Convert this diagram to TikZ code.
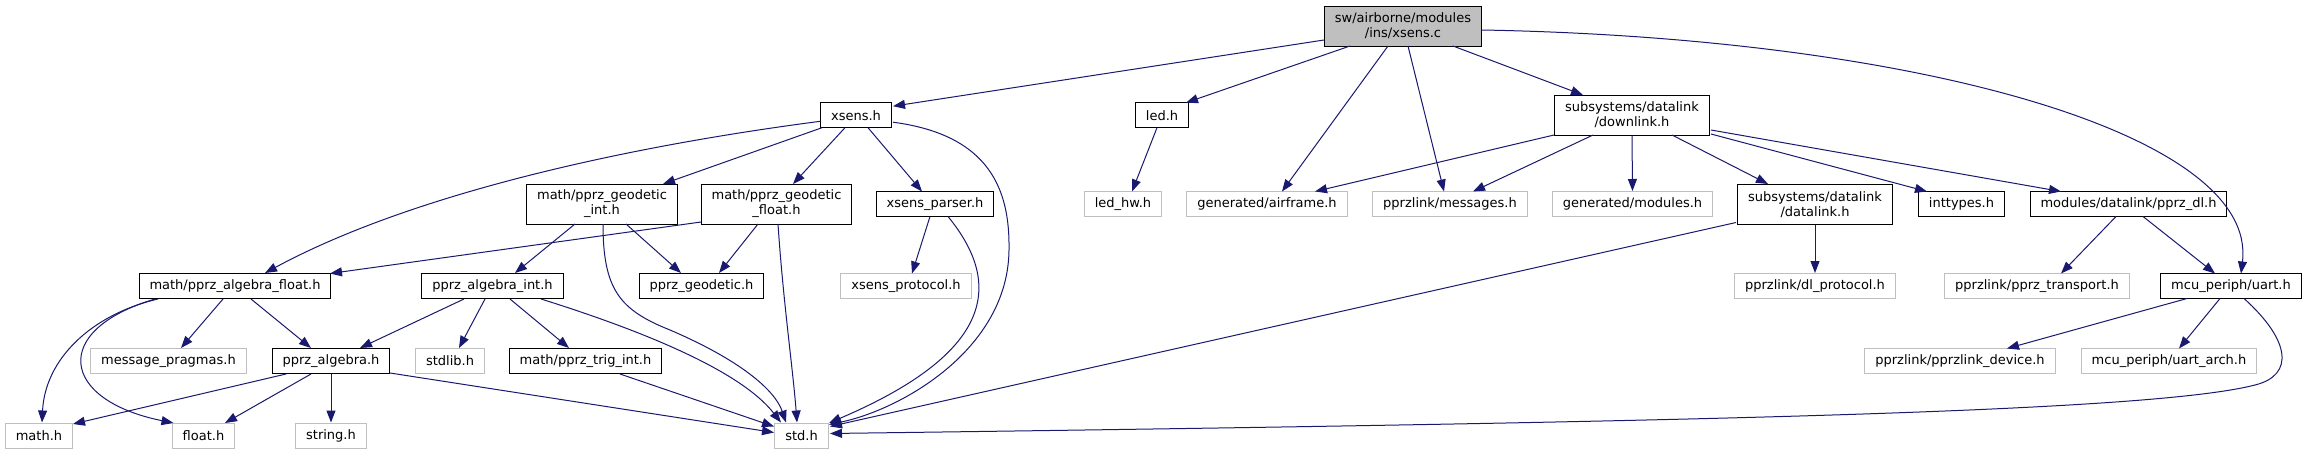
\documentclass[tikz,border=0pt]{standalone}
\usepackage{fontspec}
\usetikzlibrary{arrows.meta,calc}
\newfontfamily\dvs{DejaVu Sans}
\definecolor{edgec}{HTML}{191970}
\definecolor{grayc}{HTML}{BFBFBF}
\definecolor{fillg}{HTML}{BFBFBF}
\tikzset{
  box/.style={draw=black, line width=1pt, fill=white, font={\dvs\fontsize{13}{15}\selectfont}, inner xsep=10.5pt, inner ysep=0pt, minimum height=25pt, align=center},
  box2/.style={box, minimum height=40pt},
  gbox/.style={box, draw=grayc},
  edge/.style={draw=edgec, line width=1pt, -{Triangle[length=12pt,width=9pt]}}
}
\begin{document}
\begin{tikzpicture}[x=1pt,y=-1pt]
\fill[white] (0,0) rectangle (2307,455);
\useasboundingbox (0,0) rectangle (2307,455);
% row 1
\node[box2, fill=fillg] (xsensc) at (1403,26) {sw/airborne/modules\\/ins/xsens.c};
% row 2
\node[box] (xsensh) at (856,115.2) {xsens.h};
\node[box] (ledh) at (1162,115.2) {led.h};
\node[box2] (downlink) at (1632,115) {subsystems/datalink\\/downlink.h};
% row 3
\node[box2] (geoint) at (602,204) {math/pprz\_geodetic\\\_int.h};
\node[box2] (geofloat) at (776.5,204) {math/pprz\_geodetic\\\_float.h};
\node[box] (parser) at (935,204) {xsens\_parser.h};
\node[gbox] (ledhw) at (1123,204) {led\_hw.h};
\node[gbox] (airframe) at (1267,204) {generated/airframe.h};
\node[gbox] (messages) at (1450,204) {pprzlink/messages.h};
\node[gbox] (modules) at (1632.5,204) {generated/modules.h};
\node[box2] (datalink) at (1815,204.5) {subsystems/datalink\\/datalink.h};
\node[box] (inttypes) at (1961.5,204) {inttypes.h};
\node[box] (pprzdl) at (2128.5,204) {modules/datalink/pprz\_dl.h};
% row 4
\node[box] (algfloat) at (235,286) {math/pprz\_algebra\_float.h};
\node[box] (algint) at (492.5,286) {pprz\_algebra\_int.h};
\node[box] (geodetic) at (701.5,286) {pprz\_geodetic.h};
\node[gbox] (xsensproto) at (906,286) {xsens\_protocol.h};
\node[gbox] (dlproto) at (1815,286) {pprzlink/dl\_protocol.h};
\node[gbox] (transport) at (2037,286) {pprzlink/pprz\_transport.h};
\node[box] (uart) at (2231,286) {mcu\_periph/uart.h};
% row 5
\node[gbox] (pragmas) at (168.5,361) {message\_pragmas.h};
\node[box] (alg) at (331,361) {pprz\_algebra.h};
\node[gbox] (stdlib) at (450,361) {stdlib.h};
\node[box] (trig) at (585.5,361) {math/pprz\_trig\_int.h};
\node[gbox] (device) at (1960,361) {pprzlink/pprzlink\_device.h};
\node[gbox] (uartarch) at (2169,361) {mcu\_periph/uart\_arch.h};
% row 6
\node[gbox] (math) at (39,435.5) {math.h};
\node[gbox] (float) at (203.5,435.5) {float.h};
\node[gbox] (string) at (331,435.5) {string.h};
\node[gbox] (std) at (801.5,435.5) {std.h};

% edges from xsens.c
\draw[edge] ($(xsensc)+(-79,14)$) -- ($(xsensh)+(37,-9)$);
\draw[edge] ($(xsensc)+(-53,20)$) -- ($(ledh)+(24,-12.5)$);
\draw[edge] ($(xsensc)+(-15,20)$) -- ($(airframe)+(15,-12.5)$);
\draw[edge] ($(xsensc)+(5,20)$) -- ($(messages)+(-6,-12.5)$);
\draw[edge] ($(xsensc)+(50,20)$) -- ($(downlink)+(-49,-20)$);
\draw[edge] ($(xsensc)+(79,4)$) .. controls (1920,38) and (2258,135) .. ($(uart)+(10,-12.5)$);
% xsens.h
\draw[edge] ($(xsensh)+(-35,6)$) .. controls (600,150) and (400,200) .. ($(algfloat)+(30,-13)$);
\draw[edge] ($(xsensh)+(-34,12.5)$) -- ($(geoint)+(61,-20)$);
\draw[edge] ($(xsensh)+(-11,12.5)$) -- ($(geofloat)+(16.5,-20)$);
\draw[edge] ($(xsensh)+(12,12.5)$) -- ($(parser)+(-13,-12.5)$);
\draw[edge] ($(xsensh)+(37,7)$) .. controls (990,135) and (1010,190) .. (1009,250) .. controls (1008,350) and (900,410) .. ($(std)+(27.5,-11)$);
% led.h
\draw[edge] ($(ledh)+(-5,12.5)$) -- ($(ledhw)+(9,-12.5)$);
% xsens_parser.h
\draw[edge] ($(parser)+(-5,12.5)$) -- ($(xsensproto)+(6,-12.5)$);
\draw[edge] ($(parser)+(13,12.5)$) .. controls (1000,280) and (1000,350) .. ($(std)+(27.5,-12.5)$);
% downlink.h
\draw[edge] ($(downlink)+(-78,20)$) -- ($(airframe)+(48,-12.5)$);
\draw[edge] ($(downlink)+(-39,20)$) -- ($(messages)+(23,-12.5)$);
\draw[edge] (downlink.south) -- (modules.north);
\draw[edge] ($(downlink)+(40,20)$) -- ($(datalink)+(-47,-20.5)$);
\draw[edge] ($(downlink)+(79,19)$) -- ($(inttypes)+(-34.5,-12.5)$);
\draw[edge] ($(downlink)+(79,15)$) -- ($(pprzdl)+(-67.5,-12.5)$);
% datalink.h
\draw[edge] (datalink.south) -- (dlproto.north);
\draw[edge] ($(datalink)+(-79,18)$) -- ($(std)+(28.5,-9)$);
% pprz_dl.h
\draw[edge] ($(pprzdl)+(-12.5,12.5)$) -- ($(transport)+(24,-12.5)$);
\draw[edge] ($(pprzdl)+(14.5,12.5)$) -- ($(uart)+(-16,-12.5)$);
% uart.h
\draw[edge] ($(uart)+(-44,12.5)$) -- ($(device)+(47,-12.5)$);
\draw[edge] ($(uart)+(-11,12.5)$) -- ($(uartarch)+(10,-12.5)$);
\draw[edge] ($(uart)+(13,12.5)$) .. controls (2290,340) and (2295,375) .. (2255,385) .. controls (2150,412) and (1700,422) .. ($(std)+(28.5,-2)$);
% math/pprz_geodetic_int.h
\draw[edge] ($(geoint)+(-27,20)$) -- ($(algint)+(22.5,-13)$);
\draw[edge] ($(geoint)+(24,20)$) -- ($(geodetic)+(-20.5,-13)$);
\draw[edge] ($(geoint)+(1,20)$) .. controls (603,290) and (620,310) .. (670,330) .. controls (740,360) and (775,390) .. ($(std)+(-15.5,-13)$);
% math/pprz_geodetic_float.h
\draw[edge] ($(geofloat)+(-75.5,18)$) -- ($(algfloat)+(95,-12.5)$);
\draw[edge] ($(geofloat)+(-18.5,20)$) -- ($(geodetic)+(17.5,-13)$);
\draw[edge] ($(geofloat)+(1.5,20)$) .. controls (783,300) and (793,370) .. ($(std)+(-4.5,-13)$);
% math/pprz_algebra_float.h
\draw[edge] ($(algfloat)+(-12,13)$) -- ($(pragmas)+(12.5,-13)$);
\draw[edge] ($(algfloat)+(16,13)$) -- ($(alg)+(-20,-13)$);
\draw[edge] ($(algfloat)+(-77,13)$) .. controls (90,315) and (45,360) .. ($(math)+(3,-13)$);
\draw[edge] ($(algfloat)+(-80,13)$) .. controls (50,330) and (60,400) .. ($(float)+(-30,-12.5)$);
% pprz_algebra_int.h
\draw[edge] ($(algint)+(-28.5,13)$) -- ($(alg)+(29,-13)$);
\draw[edge] ($(algint)+(-7.5,13)$) -- ($(stdlib)+(9,-13)$);
\draw[edge] ($(algint)+(17.5,13)$) -- ($(trig)+(-16.5,-13)$);
\draw[edge] ($(algint)+(48.5,13)$) .. controls (640,330) and (740,370) .. ($(std)+(-20.5,-13)$);
% pprz_algebra.h
\draw[edge] ($(alg)+(-45,13)$) -- ($(math)+(34,-11.5)$);
\draw[edge] ($(alg)+(-20,13)$) -- ($(float)+(21.5,-12.5)$);
\draw[edge] (alg.south) -- (string.north);
\draw[edge] ($(alg)+(59,12)$) -- ($(std)+(-27.5,-3)$);
% math/pprz_trig_int.h
\draw[edge] ($(trig)+(34.5,13)$) -- ($(std)+(-27.5,-9)$);
\end{tikzpicture}
\end{document}
